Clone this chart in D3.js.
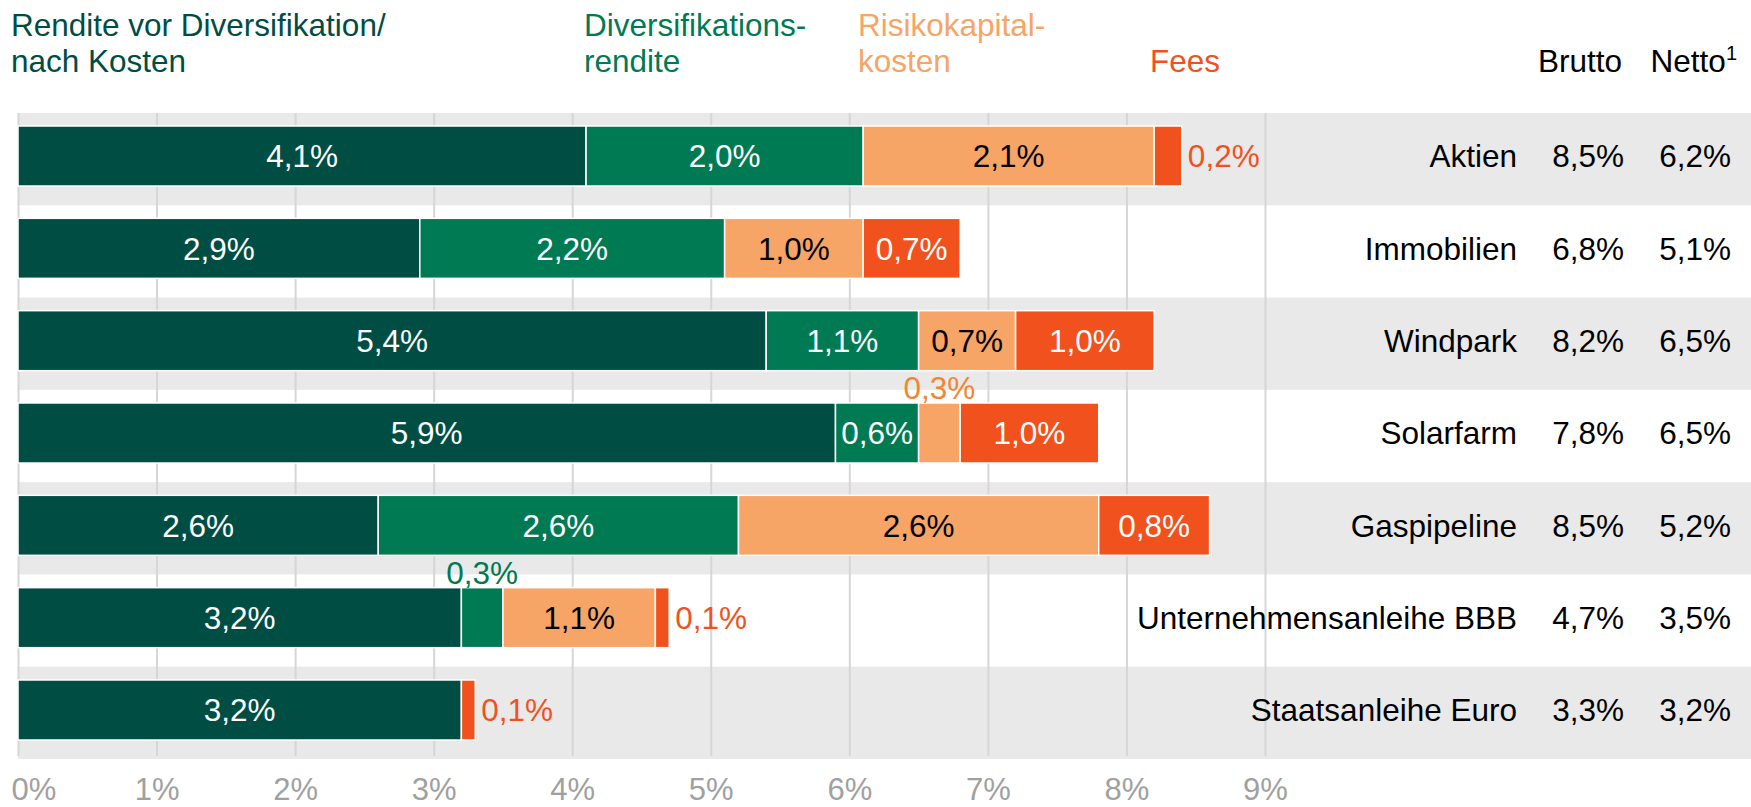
<!DOCTYPE html>
<html>
<head>
<meta charset="utf-8">
<script src="https://cdnjs.cloudflare.com/ajax/libs/d3/7.8.5/d3.min.js"></script>
<style>
  body { margin: 0; background: #fff; }
  svg { display: block; font-family: "Liberation Sans", Arial, sans-serif; }
</style>
</head>
<body>
<div id="container"></div>
<script>
const w = 1751;
const h = 807;
const fontSize = 31.5;

const categories = ["Aktien", "Immobilien", "Windpark", "Solarfarm", "Gaspipeline", "Unternehmensanleihe BBB", "Staatsanleihe Euro"];
const baseReturn = [4.1, 2.9, 5.4, 5.9, 2.6, 3.2, 3.2];
const divReturn = [2.0, 2.2, 1.1, 0.6, 2.6, 0.3, 0];
const riskCost = [2.1, 1.0, 0.7, 0.3, 2.6, 1.1, 0];
const fees = [0.2, 0.7, 1.0, 1.0, 0.8, 0.1, 0.1];
const brutto = [8.5, 6.8, 8.2, 7.8, 8.5, 4.7, 3.3];
const netto = [6.2, 5.1, 6.5, 6.5, 5.2, 3.5, 3.2];
const xTicks = [0, 1, 2, 3, 4, 5, 6, 7, 8, 9];

const seriesInfo = [
  { key: "base", values: baseReturn, fill: "#004d44", text: "#fff", outText: "#004d44", legend: ["Rendite vor Diversifikation/", "nach Kosten"], lx: 11 },
  { key: "div", values: divReturn, fill: "#007a53", text: "#fff", outText: "#007a53", legend: ["Diversifikations-", "rendite"], lx: 584 },
  { key: "risk", values: riskCost, fill: "#f7a467", text: "#000", outText: "#f38531", legend: ["Risikokapital-", "kosten"], lx: 858 },
  { key: "fees", values: fees, fill: "#f1521d", text: "#fff", outText: "#f1521d", legend: ["", "Fees"], lx: 1150 }
];

const locale = d3.formatLocale({ decimal: ",", thousands: ".", grouping: [3], currency: ["", "€"] });
const fmt = v => locale.format(".1f")(v) + "%";

const svg = d3.select("#container")
  .append("svg")
  .attr("width", w)
  .attr("height", h);

const x = d3.scaleLinear().domain([0, 9]).range([18, 1265]);
const rows = d3.scaleBand().domain(categories).range([113, 759]).padding(0);
const y = d3.scaleBand().domain(categories).range([126, 740]).paddingInner(0.35).paddingOuter(0);

// alternating background rows
svg.append("g")
  .selectAll("rect")
  .data(categories.filter((d, i) => i % 2 === 0))
  .enter()
  .append("rect")
  .attr("x", x(0))
  .attr("y", d => rows(d))
  .attr("width", w - x(0))
  .attr("height", rows.bandwidth())
  .style("fill", "#e9e9e9");

// gridlines
svg.append("g")
  .attr("transform", `translate(0, ${rows.range()[1] - 3})`)
  .call(d3.axisBottom(x).tickValues(xTicks).tickSize(-(rows.range()[1] - 3 - rows.range()[0])).tickFormat(""))
  .call(g => g.select(".domain").remove())
  .call(g => g.selectAll(".tick line").attr("stroke", "#d6d6d6").attr("stroke-width", 2));

// stacked bars
const table = categories.map((c, i) => {
  const row = { category: c };
  seriesInfo.forEach(s => { row[s.key] = s.values[i]; });
  return row;
});
const stack = d3.stack().keys(seriesInfo.map(s => s.key))(table);

const layers = svg.append("g")
  .selectAll("g")
  .data(stack)
  .enter()
  .append("g")
  .style("fill", (d, i) => seriesInfo[i].fill);

layers.selectAll("rect")
  .data(d => d.filter(p => p[1] - p[0] > 0))
  .enter()
  .append("rect")
  .attr("x", d => x(d[0]))
  .attr("y", d => y(d.data.category))
  .attr("width", d => x(d[1]) - x(d[0]))
  .attr("height", y.bandwidth())
  .attr("stroke", "#fff")
  .attr("stroke-width", 1.5);

// value labels
const labels = svg.append("g").style("font-size", fontSize + "px");
stack.forEach((layer, si) => {
  const s = seriesInfo[si];
  const last = si === stack.length - 1;
  layer.forEach(p => {
    const v = p[1] - p[0];
    if (v <= 0) return;
    const cy = y(p.data.category) + y.bandwidth() / 2;
    const t = labels.append("text").text(fmt(v));
    if (v > 0.35) {
      t.attr("x", x((p[0] + p[1]) / 2)).attr("y", cy + fontSize * 0.36)
        .attr("text-anchor", "middle").style("fill", s.text);
    } else if (last) {
      t.attr("x", x(p[1]) + 6).attr("y", cy + fontSize * 0.36)
        .attr("text-anchor", "start").style("fill", s.outText);
    } else {
      t.attr("x", x((p[0] + p[1]) / 2)).attr("y", y(p.data.category) - 4)
        .attr("text-anchor", "middle").style("fill", s.outText);
    }
  });
});

// category names and brutto / netto columns
const right = svg.append("g").style("font-size", fontSize + "px").style("fill", "#000");
categories.forEach((c, i) => {
  const cy = y(c) + y.bandwidth() / 2 + fontSize * 0.36;
  right.append("text").attr("x", 1517).attr("y", cy).attr("text-anchor", "end").text(c);
  right.append("text").attr("x", 1624).attr("y", cy).attr("text-anchor", "end").text(fmt(brutto[i]));
  right.append("text").attr("x", 1731).attr("y", cy).attr("text-anchor", "end").text(fmt(netto[i]));
});

// legend headers
const legend = svg.append("g").style("font-size", fontSize + "px");
seriesInfo.forEach(s => {
  s.legend.forEach((line, li) => {
    if (!line) return;
    legend.append("text")
      .attr("x", s.lx)
      .attr("y", 36 + li * 36)
      .style("fill", s.fill)
      .text(line);
  });
});
legend.append("text").attr("x", 1622).attr("y", 72).attr("text-anchor", "end").text("Brutto");
const netHead = legend.append("text").attr("x", 1737).attr("y", 72).attr("text-anchor", "end");
netHead.append("tspan").text("Netto");
netHead.append("tspan").attr("dy", -12).style("font-size", "20px").text("1");

// x axis labels
svg.append("g")
  .attr("transform", `translate(0, 760)`)
  .call(d3.axisBottom(x).tickValues(xTicks).tickSize(0).tickPadding(0).tickFormat(d => d + "%"))
  .call(g => g.select(".domain").remove())
  .call(g => g.selectAll(".tick text")
    .attr("y", 40)
    .attr("dy", 0)
    .style("font-size", "31px")
    .style("font-family", "'Liberation Sans', Arial, sans-serif")
    .style("fill", "#a0a0a0"))
  .call(g => g.selectAll(".tick").filter(d => d === 0).select("text")
    .attr("text-anchor", "start")
    .attr("x", -7));
</script>
</body>
</html>
